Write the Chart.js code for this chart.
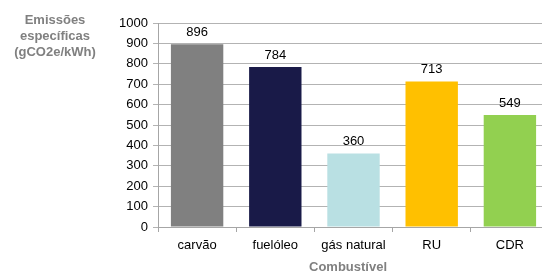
<!DOCTYPE html>
<html>
<head>
<meta charset="utf-8">
<script src="https://cdn.jsdelivr.net/npm/chart.js@4/dist/chart.umd.min.js"></script>
<style>
  html, body { margin: 0; padding: 0; background: #fff; overflow: hidden; }
  #wrap { width: 550px; height: 277px; }
</style>
</head>
<body>
<div id="wrap"><canvas id="emChart" width="550" height="277"></canvas></div>
<script>
// values
var categories = ["carvão", "fuelóleo", "gás natural", "RU", "CDR"];
var emissions = [896, 784, 360, 713, 549];
var barColors = ['#808080', '#191a48', '#b9e0e3', '#ffc000', '#92d050'];
var yTitle = ["Emissões", "específicas", "(gCO2e/kWh)"];
var xTitle = "Combustível";

var FONT = "'Liberation Sans', Arial, sans-serif";

// value labels above bars + the titles
var labelsPlugin = {
    id: 'labels',
    afterDatasetsDraw: function(chart) {
        var ctx = chart.ctx;
        var meta = chart.getDatasetMeta(0);
        ctx.save();
        ctx.font = "13px " + FONT;
        ctx.fillStyle = '#000';
        ctx.textAlign = 'center';
        ctx.textBaseline = 'middle';
        meta.data.forEach(function(bar, i) {
            ctx.fillText(emissions[i], bar.x, bar.y - 12);
        });

        ctx.font = "bold 13px " + FONT;
        ctx.fillStyle = '#808080';
        yTitle.forEach(function(line, i) {
            ctx.fillText(line, 55, 20 + i * 16);
        });
        ctx.fillText(xTitle, 348, 267);
        ctx.restore();
    }
};

new Chart(document.getElementById('emChart'), {
    type: 'bar',
    data: {
        labels: categories,
        datasets: [{
            data: emissions,
            backgroundColor: barColors,
            borderWidth: 0,
            categoryPercentage: 1,
            barPercentage: 0.67
        }]
    },
    options: {
        responsive: false,
        animation: false,
        layout: { padding: { top: 23, right: 1, left: 0, bottom: 0 } },
        plugins: {
            legend: { display: false },
            tooltip: { enabled: false }
        },
        scales: {
            x: {
                grid: {
                    offset: true,
                    drawOnChartArea: false,
                    color: '#a6a6a6',
                    tickLength: 5
                },
                border: { color: '#a6a6a6' },
                ticks: { color: '#000', font: { family: FONT, size: 13 }, padding: 6 },
                afterFit: function(s) { s.height = 50; }
            },
            y: {
                min: 0,
                max: 1000,
                ticks: {
                    stepSize: 100,
                    color: '#000',
                    font: { family: FONT, size: 13 },
                    padding: 5,
                    callback: function(v) { return String(v); }
                },
                grid: { color: '#b3b3b3', tickLength: 5 },
                border: { color: '#a6a6a6' },
                afterFit: function(s) { s.width = 158; }
            }
        }
    },
    plugins: [labelsPlugin]
});
</script>
</body>
</html>
